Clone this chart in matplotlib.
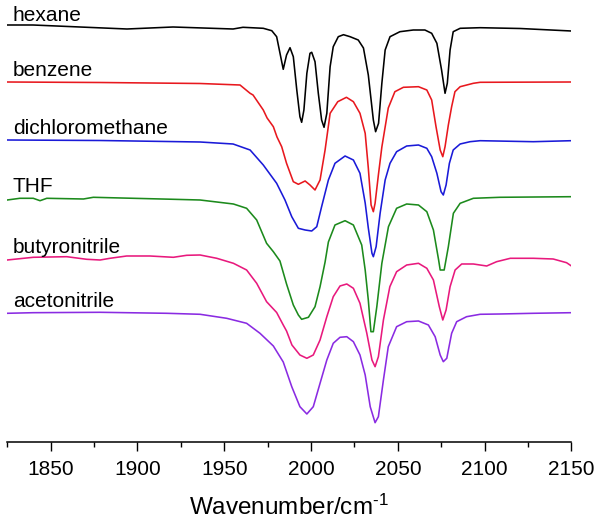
import matplotlib
matplotlib.use('Agg')
import matplotlib.pyplot as plt
import numpy as np
from matplotlib.ticker import MultipleLocator

plt.rcParams['font.family'] = ['Liberation Sans', 'DejaVu Sans']
plt.rcParams['mathtext.fontset'] = 'custom'
plt.rcParams['mathtext.rm'] = 'Liberation Sans'
plt.rcParams['mathtext.it'] = 'Liberation Sans:italic'

# IR spectra (wavenumber in cm-1, transmittance in a.u. relative to baseline)
solvents = ['hexane', 'benzene', 'dichloromethane', 'THF', 'butyronitrile', 'acetonitrile']

wn_hexane = [1825, 1839.8, 1894.0, 1920.5, 1955.1, 1960.8, 1972.5, 1977.4, 1980.2, 1982.1,
             1984.0, 1985.9, 1987.9, 1989.8, 1991.8, 1993.6, 1994.6, 1995.9, 1997.6, 1999.4,
             2000.4, 2002.3, 2004.2, 2006.1, 2007.5, 2009.1, 2011.0, 2012.8, 2015.7, 2018.7,
             2022.5, 2027.2, 2030.2, 2033.0, 2035.9, 2037.2, 2038.9, 2040.8, 2042.7, 2045.5,
             2051.2, 2058.9, 2065.6, 2069.5, 2072.5, 2075.2, 2077.2, 2078.5, 2080.1, 2081.9,
             2085.9, 2097.4, 2120.5, 2150]
t_hexane = [2, 2, -2, 0, -2, -0.3, -1.3, -3.7, -9.7, -26,
            -42.3, -28, -20.7, -29.7, -63, -89.7, -95.3, -83, -46.3, -26.3,
            -25.3, -34.7, -66.3, -93, -100.3, -86.3, -39.7, -19.7, -9.7, -7.7,
            -9.7, -13, -21, -48, -93, -104.7, -96.3, -56.3, -23, -9.7,
            -4.7, -3, -3, -6.3, -16.3, -43, -66.3, -56.3, -23, -4.7,
            -1.3, -0.7, -1.5, -4]

wn_benzene = [1825, 1878.5, 1936.1, 1959.1, 1964.9, 1966.6, 1972.5, 1974.7, 1978.3, 1980.4,
              1983.1, 1985.9, 1989.8, 1992.7, 1996.6, 1999.4, 2002.3, 2005.2, 2008.1, 2010.0,
              2011.0, 2015.4, 2020.4, 2024.4, 2028.2, 2031.2, 2033.0, 2034.6, 2035.9, 2036.9,
              2038.8, 2040.8, 2044.5, 2048.3, 2053.2, 2061.9, 2066.7, 2069.5, 2072.0, 2074.4,
              2075.9, 2077.2, 2079.1, 2081.0, 2082.9, 2085.9, 2093.5, 2097.4, 2150]
t_benzene = [0, -0.5, -1.5, -3, -11.3, -13, -28, -36, -44.7, -55,
             -64.7, -81.3, -99.7, -102.3, -99, -103, -108, -98, -68, -44,
             -31.3, -19.7, -15.3, -19.7, -31.3, -51.3, -86, -123, -129.7, -121.3,
             -93, -65, -26, -9.7, -5.3, -4.7, -8, -18, -44.7, -68,
             -74.7, -64.7, -43, -24.7, -9.7, -4.7, -1.3, -0.3, 0]

wn_dcm = [1825, 1878.5, 1936.1, 1955.1, 1964.9, 1972.5, 1980.2, 1985.0, 1988.9, 1992.7,
          1996.6, 2000.4, 2003.3, 2006.1, 2010.0, 2013.8, 2019.6, 2024.4, 2028.2, 2031.2,
          2033.0, 2035.1, 2035.9, 2037.5, 2039.8, 2042.7, 2045.5, 2049.3, 2055.1, 2061.9,
          2066.7, 2069.5, 2072.5, 2074.9, 2076.2, 2077.8, 2079.7, 2081.9, 2085.9, 2091.6,
          2097.4, 2128.0, 2150]
t_dcm = [0, -0.5, -2, -4, -10, -25, -43.3, -60, -76.7, -88.3,
         -90, -91, -86.7, -66.7, -40, -23.3, -16, -20, -33.3, -63,
         -88, -113.3, -116.7, -106.7, -73.3, -40, -23.3, -11.7, -6, -5,
         -8.3, -16.7, -33.3, -51.7, -55, -45, -23.3, -10, -4, -1.7,
         -0.7, -1.7, -0.7]

wn_thf = [1825, 1832.3, 1840.0, 1843.9, 1847.8, 1868.9, 1874.6, 1897.6, 1920.7, 1936.1,
          1955.3, 1962.9, 1968.7, 1974.4, 1978.3, 1982.1, 1985.9, 1989.8, 1992.7, 1994.6,
          1998.5, 2002.3, 2005.2, 2008.1, 2010.0, 2013.8, 2019.6, 2024.4, 2029.2, 2031.2,
          2033.0, 2034.5, 2035.9, 2037.9, 2040.8, 2044.6, 2049.3, 2055.1, 2061.9, 2066.7,
          2070.5, 2073.5, 2074.4, 2076.7, 2079.1, 2082.0, 2085.9, 2093.5, 2108.8, 2150]
t_thf = [-2, -0.3, -0.3, -2.7, -0.3, -1, 0.7, -0.3, -1.3, -2,
         -6, -10.3, -22, -45.3, -53.7, -63, -86, -107, -117, -121.3,
         -119.3, -108.7, -88.7, -64, -44, -27, -22.7, -27, -47, -72,
         -102, -133.7, -133.7, -108.7, -65.3, -28.7, -10.3, -6, -7, -13.7,
         -32, -62, -72, -72, -48.7, -15.3, -5.3, -0.3, 0.7, 1.3]

wn_butyro = [1825, 1840.0, 1859.3, 1870.8, 1878.5, 1884.2, 1893.8, 1907.2, 1920.7, 1928.4,
             1936.1, 1945.7, 1955.3, 1962.9, 1968.7, 1974.4, 1980.2, 1984.0, 1985.9, 1989.0,
             1993.6, 1997.6, 2001.3, 2005.2, 2009.1, 2012.8, 2016.7, 2020.6, 2024.4, 2028.2,
             2032.1, 2035.1, 2036.9, 2038.8, 2041.7, 2045.4, 2049.3, 2055.1, 2061.9, 2066.7,
             2070.5, 2073.9, 2075.9, 2077.8, 2080.1, 2083.0, 2086.8, 2093.5, 2101.2, 2106.9,
             2114.8, 2128.1, 2139.5, 2147.2, 2150]
t_butyro = [-1, 1.7, 2.3, -0.3, -1, 0.7, 3, 3, 1.7, 3.7,
            4, 0.7, -4.3, -11, -24.3, -42.7, -53.5, -66, -72, -86,
            -96, -99.3, -96, -81, -57.7, -37.7, -27, -25, -29.3, -44.3,
            -74, -101, -107.7, -97.7, -61, -27.7, -12.7, -6, -4.3, -9.3,
            -21, -47.7, -61, -51, -27.7, -11, -5, -5, -7, -2.7,
            0.7, 0.7, 0, -3.7, -7]

wn_aceto = [1825, 1840.0, 1878.5, 1916.9, 1936.1, 1951.4, 1962.9, 1970.6, 1978.3, 1984.0,
            1988.9, 1993.6, 1997.6, 2001.3, 2005.2, 2009.1, 2012.8, 2016.7, 2020.6, 2024.4,
            2028.2, 2031.2, 2034.1, 2036.9, 2038.8, 2041.7, 2044.5, 2049.3, 2055.1, 2061.9,
            2067.6, 2071.5, 2074.4, 2076.2, 2078.2, 2081.0, 2083.9, 2089.6, 2097.4, 2108.8,
            2128.1, 2150]
t_aceto = [-0.3, 0.3, 0.7, -0.3, -1.3, -5.3, -10.3, -20.3, -33, -49,
           -73.7, -93.7, -101, -93.7, -70.3, -47, -30.3, -24.3, -23.7, -28.7,
           -42, -62, -93.7, -109.7, -103.7, -67, -33.7, -13.7, -8.7, -8,
           -12, -23.7, -42, -48.7, -45.3, -20.3, -8.7, -3.7, -1.3, -1,
           -0.3, 0.3]

wavenumbers = [wn_hexane, wn_benzene, wn_dcm, wn_thf, wn_butyro, wn_aceto]
spectra = [t_hexane, t_benzene, t_dcm, t_thf, t_butyro, t_aceto]

# vertical stacking and colours
offsets = [415.3, 360.3, 302.3, 244.3, 183.3, 129.3]
colors = ['#000000', '#e8181e', '#1a1ad8', '#1c8a1c', '#e8197d', '#8a2be2']

fig = plt.figure(figsize=(6.01, 5.19), dpi=100)
ax = fig.add_axes([0.012, 0.1478, 0.9388, 0.8522])

for name, wn, t, off, c in zip(solvents, wavenumbers, spectra, offsets, colors):
    ax.plot(wn, off + np.array(t), color=c, lw=1.15, solid_joinstyle='round')
    ax.text(1828.2, off + 6, name, fontsize=15, va='baseline', ha='left')

ax.set_xlim(1825, 2150)
ax.set_ylim(0, 442.3)
for s in ['top', 'left', 'right']:
    ax.spines[s].set_visible(False)
ax.spines['bottom'].set_linewidth(1.1)
ax.set_yticks([])
ax.xaxis.set_major_locator(MultipleLocator(50))
ax.xaxis.set_minor_locator(MultipleLocator(25))
ax.tick_params(axis='x', which='major', direction='out', length=6.3, width=1.0,
               labelsize=15, pad=6.5)
ax.tick_params(axis='x', which='minor', direction='out', length=3.8, width=1.0)
ax.set_xlabel(r'Wavenumber/cm$^{\text{-1}}$', fontsize=17.5, labelpad=11)

fig.savefig('out.png', dpi=100)
